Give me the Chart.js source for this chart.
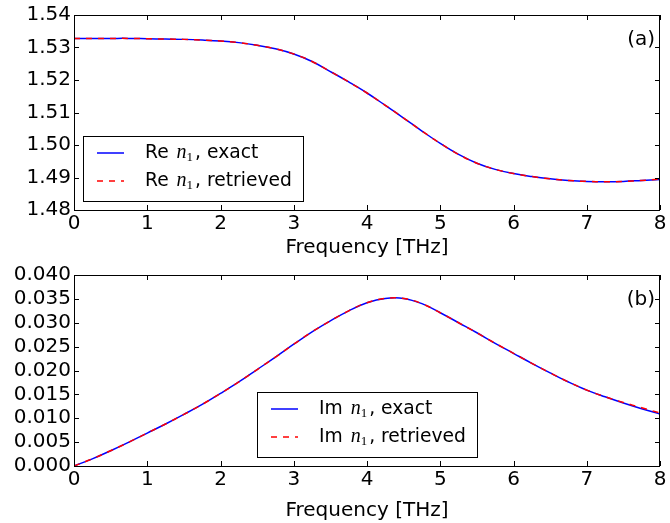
<!DOCTYPE html>
<html>
<head>
<meta charset="utf-8">
<script src="https://cdn.jsdelivr.net/npm/chart.js@4/dist/chart.umd.min.js"></script>
<style>
  html, body { margin: 0; padding: 0; background: #fff; }
  #wrap { position: relative; width: 670px; height: 523px; }
  canvas { position: absolute; left: 0; }
  #top { top: 0; }
  #bottom { top: 260px; }
</style>
</head>
<body>
<div id="wrap">
  <canvas id="top" width="670" height="260"></canvas>
  <canvas id="bottom" width="670" height="263"></canvas>
</div>
<script>
(function () {
  "use strict";

  // frequency samples [THz]
  const freq = [0, 0.25, 0.5, 0.75, 1, 1.25, 1.5, 1.75, 2, 2.25, 2.5, 2.75, 3, 3.25, 3.5, 3.75,
                4, 4.25, 4.5, 4.75, 5, 5.25, 5.5, 5.75, 6, 6.25, 6.5, 6.75, 7, 7.25, 7.5, 7.75, 8];

  // Re n1 (panel a)
  const reExact = [1.5328, 1.5328, 1.5328, 1.5328, 1.5327, 1.5326, 1.5325, 1.5323, 1.5320, 1.5315, 1.5307,
                   1.5296, 1.5280, 1.5257, 1.5226, 1.5194, 1.5160, 1.5122, 1.5083, 1.5043, 1.5005, 1.4971,
                   1.4944, 1.4925, 1.4912, 1.4903, 1.4896, 1.4891, 1.4888, 1.4887, 1.4888, 1.4891, 1.4894];
  const reRetrieved = [1.5328, 1.5328, 1.5328, 1.5328, 1.5327, 1.5326, 1.5325, 1.5323, 1.5320, 1.5315, 1.5307,
                       1.5296, 1.5280, 1.5257, 1.5226, 1.5194, 1.5160, 1.5122, 1.5083, 1.5043, 1.5005, 1.4971,
                       1.4944, 1.4925, 1.4912, 1.4903, 1.4896, 1.4891, 1.4888, 1.4887, 1.4888, 1.4891, 1.4895];

  // Im n1 (panel b)
  const imExact = [0.0000, 0.0015, 0.0032, 0.0050, 0.0069, 0.0088, 0.0108, 0.0129, 0.0152, 0.0176, 0.0202,
                   0.0228, 0.0255, 0.0281, 0.0304, 0.0325, 0.0342, 0.0351, 0.0351, 0.0340, 0.0321, 0.0300,
                   0.0279, 0.0257, 0.0236, 0.0215, 0.0195, 0.0176, 0.0159, 0.0145, 0.0132, 0.0120, 0.0109];
  const imRetrieved = [0.0000, 0.0015, 0.0032, 0.0050, 0.0069, 0.0088, 0.0108, 0.0129, 0.0152, 0.0176, 0.0202,
                       0.0228, 0.0255, 0.0281, 0.0304, 0.0325, 0.0342, 0.0351, 0.0351, 0.0340, 0.0321, 0.0300,
                       0.0279, 0.0257, 0.0236, 0.0215, 0.0195, 0.0176, 0.0159, 0.0145, 0.0133, 0.0122, 0.0111];

  // tick labels
  const xTicks  = [0, 1, 2, 3, 4, 5, 6, 7, 8];
  const reTicks = [1.48, 1.49, 1.50, 1.51, 1.52, 1.53, 1.54];
  const imTicks = [0.000, 0.005, 0.010, 0.015, 0.020, 0.025, 0.030, 0.035, 0.040];

  const FONT = "'DejaVu Sans', sans-serif";
  const BLUE = '#0000ff';
  const RED  = '#ff0000';

  const pts = (ys) => freq.map((f, i) => ({ x: f, y: ys[i] }));

  // frame, inward ticks, legend and panel label, matplotlib style
  const framePlugin = {
    id: 'frame',
    afterDatasetsDraw(chart, args, opts) {
      const ctx = chart.ctx;
      const a = chart.chartArea;
      const sx = chart.scales.x, sy = chart.scales.y;
      ctx.save();
      ctx.strokeStyle = '#000';
      ctx.lineWidth = 1;
      ctx.beginPath();
      sx.ticks.forEach(t => {
        const px = Math.round(sx.getPixelForValue(t.value)) + 0.5;
        ctx.moveTo(px, a.bottom); ctx.lineTo(px, a.bottom - 5);
        ctx.moveTo(px, a.top);    ctx.lineTo(px, a.top + 5);
      });
      sy.ticks.forEach(t => {
        const py = Math.round(sy.getPixelForValue(t.value)) + 0.5;
        ctx.moveTo(a.left, py);  ctx.lineTo(a.left + 5, py);
        ctx.moveTo(a.right, py); ctx.lineTo(a.right - 5, py);
      });
      ctx.stroke();
      ctx.strokeRect(Math.round(a.left) + 0.5, Math.round(a.top) + 0.5,
                     Math.round(a.width) - 1, Math.round(a.height));

      // legend box
      const bw = 220, bh = 65;
      const bx = opts.legendPos === 'center' ? Math.round((a.left + a.right) / 2 - bw / 2) : Math.round(a.left + 9);
      const by = Math.round(a.bottom - 9 - bh);
      ctx.fillStyle = '#fff';
      ctx.fillRect(bx, by, bw, bh);
      ctx.strokeRect(bx + 0.5, by + 0.5, bw, bh);

      const entries = [
        { color: BLUE, dash: [], text: ', exact' },
        { color: RED, dash: [6, 6], text: ', retrieved' }
      ];
      entries.forEach((e, i) => {
        const ly = by + 17 + i * 28;
        ctx.beginPath();
        ctx.setLineDash(e.dash);
        ctx.strokeStyle = e.color;
        ctx.lineWidth = 1.5;
        ctx.moveTo(bx + 14, ly); ctx.lineTo(bx + 41, ly);
        ctx.stroke();
        ctx.setLineDash([]);

        let tx = bx + 62;
        ctx.fillStyle = '#000';
        ctx.textBaseline = 'middle';
        ctx.textAlign = 'left';
        ctx.font = "18.7px " + FONT;
        const pre = opts.prefix + ' ';
        ctx.fillText(pre, tx, ly);
        tx += ctx.measureText(pre).width + 2;
        ctx.font = "italic 20px 'Liberation Serif', serif";
        ctx.fillText('n', tx, ly);
        tx += ctx.measureText('n').width;
        ctx.font = "13px 'Liberation Serif', serif";
        ctx.fillText('1', tx, ly + 5);
        tx += ctx.measureText('1').width + 2;
        ctx.font = "18.7px " + FONT;
        ctx.fillText(e.text, tx, ly);
      });

      // panel label
      ctx.font = "20px " + FONT;
      ctx.textAlign = 'right';
      ctx.textBaseline = 'middle';
      ctx.fillStyle = '#000';
      ctx.fillText(opts.panel, a.right - 5, a.top + 25);
      ctx.restore();
    }
  };

  function makeChart(id, exact, retrieved, yTicks, decimals, panel, prefix, legendPos, xHeight, titlePad) {
    return new Chart(document.getElementById(id), {
      type: 'line',
      data: {
        datasets: [
          {
            label: prefix + ' n1, retrieved',
            data: pts(retrieved),
            borderColor: RED,
            borderWidth: 1.5,
            borderDash: [6, 6],
            pointRadius: 0,
            tension: 0.4,
            order: 0
          },
          {
            label: prefix + ' n1, exact',
            data: pts(exact),
            borderColor: BLUE,
            borderWidth: 1.5,
            pointRadius: 0,
            tension: 0.4,
            order: 1
          }
        ]
      },
      options: {
        responsive: false,
        animation: false,
        events: [],
        layout: { padding: { top: panel === '(a)' ? 13 : 9, right: 10, left: 0, bottom: 0 } },
        plugins: {
          legend: { display: false },
          tooltip: { enabled: false },
          frame: { panel: panel, prefix: prefix, legendPos: legendPos }
        },
        scales: {
          x: {
            type: 'linear',
            min: 0,
            max: 8,
            afterBuildTicks: (s) => { s.ticks = xTicks.map(v => ({ value: v })); },
            afterFit: (s) => { s.height = xHeight; },
            grid: { display: false, drawTicks: false },
            border: { display: false },
            ticks: {
              color: '#000',
              font: { family: FONT, size: 20 },
              padding: 2,
              maxRotation: 0,
              autoSkip: false,
              callback: (v) => String(v)
            },
            title: {
              display: true,
              text: 'Frequency [THz]',
              color: '#000',
              font: { family: FONT, size: 20 },
              padding: { top: 0, bottom: titlePad }
            }
          },
          y: {
            type: 'linear',
            min: yTicks[0],
            max: yTicks[yTicks.length - 1],
            afterBuildTicks: (s) => { s.ticks = yTicks.map(v => ({ value: v })); },
            afterFit: (s) => { s.width = 74; },
            grid: { display: false, drawTicks: false },
            border: { display: false },
            ticks: {
              color: '#000',
              font: { family: FONT, size: 20 },
              padding: 3,
              autoSkip: false,
              callback: (v) => Number(v).toFixed(decimals)
            }
          }
        }
      },
      plugins: [framePlugin]
    });
  }

  makeChart('top', reExact, reRetrieved, reTicks, 2, '(a)', 'Re', 'left', 50, 0);
  makeChart('bottom', imExact, imRetrieved, imTicks, 3, '(b)', 'Im', 'center', 57, 0);
})();
</script>
</body>
</html>
